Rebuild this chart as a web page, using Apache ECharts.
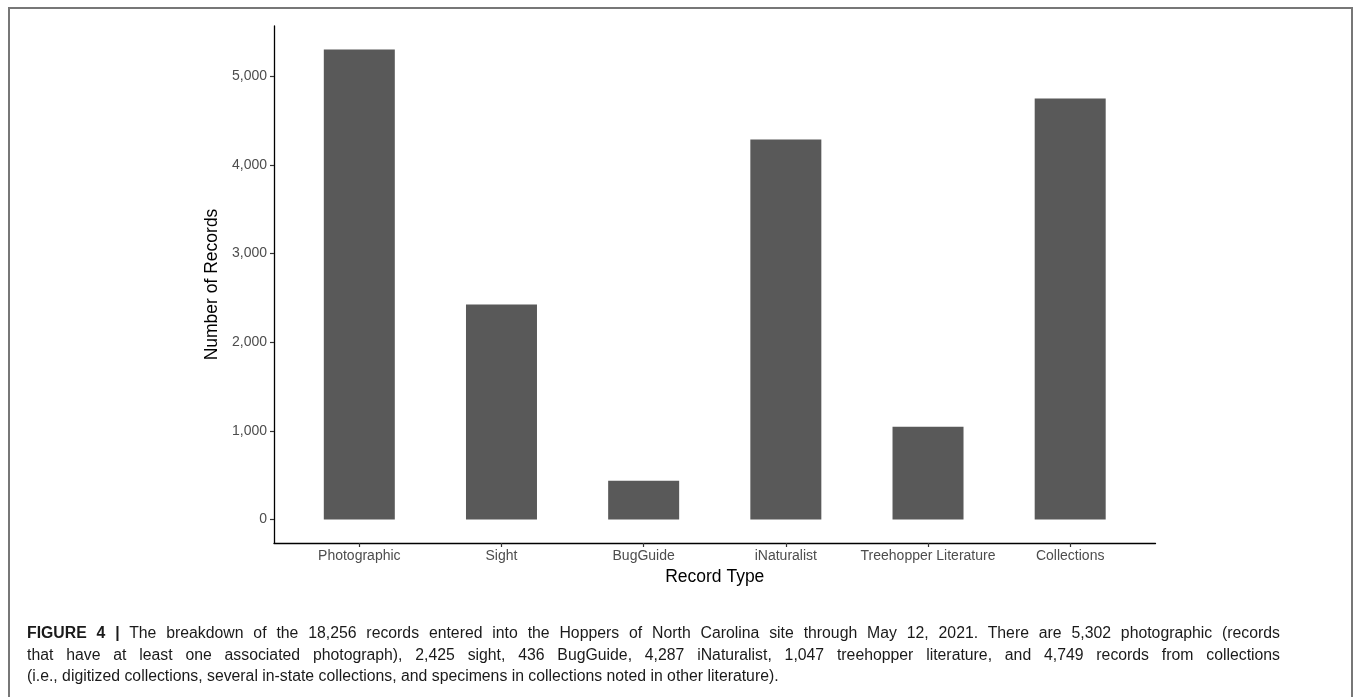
<!DOCTYPE html>
<html>
<head>
<meta charset="utf-8">
<script src="https://cdn.jsdelivr.net/npm/echarts@6/dist/echarts.min.js"></script>
<style>
  html, body { margin: 0; padding: 0; background: #fff; }
  #wrap { position: relative; width: 1355px; height: 697px; overflow: hidden; }
  #frame { position: absolute; left: 8px; top: 7px; width: 1345px; height: 720px; border: 2px solid #777; box-sizing: border-box; }
  #chart { position: absolute; left: 0; top: 0; width: 1355px; height: 697px; }
  #caption { position: absolute; left: 27px; top: 622px; width: 1253px; font-family: "Liberation Sans", Arial, sans-serif; font-size: 15.8px; line-height: 21.5px; color: #1a1a1a; }
  .ln { text-align: justify; text-align-last: justify; white-space: nowrap; }
  .ln.last { text-align-last: left; }
</style>
</head>
<body>
<div id="wrap">
  <div id="frame"></div>
  <div id="chart"></div>
  <div id="caption">
    <div class="ln"><b>FIGURE 4 |</b> The breakdown of the 18,256 records entered into the Hoppers of North Carolina site through May 12, 2021. There are 5,302 photographic (records</div>
    <div class="ln">that have at least one associated photograph), 2,425 sight, 436 BugGuide, 4,287 iNaturalist, 1,047 treehopper literature, and 4,749 records from collections</div>
    <div class="ln last">(i.e., digitized collections, several in-state collections, and specimens in collections noted in other literature).</div>
  </div>
</div>
<script>
const categories = ["Photographic", "Sight", "BugGuide", "iNaturalist", "Treehopper Literature", "Collections"];
const recordCounts = [5302, 2425, 436, 4287, 1047, 4749];
const yTicks = [0, 1000, 2000, 3000, 4000, 5000];

const fmt = v => String(v).replace(/\B(?=(\d{3})+(?!\d))/g, ",");
const catIdx = categories.map((c, i) => i);
const dataMax = Math.max.apply(null, recordCounts);
const yPad = dataMax * 0.05;

const chart = echarts.init(document.getElementById('chart'), null, { renderer: 'canvas' });
chart.setOption({
  animation: false,
  textStyle: { fontFamily: '"Liberation Sans", Arial, sans-serif' },
  grid: { left: 274, right: 199.5, top: 26, bottom: 154, containLabel: false },
  xAxis: {
    type: 'value',
    min: -0.6, max: categories.length - 0.4,
    splitLine: { show: false },
    axisLine: { onZero: false, lineStyle: { color: '#000', width: 1.3 } },
    axisTick: { show: true, customValues: catIdx, length: 4, lineStyle: { color: '#333', width: 1.2 } },
    axisLabel: { customValues: catIdx, formatter: v => categories[Math.round(v)], color: '#4d4d4d', fontSize: 14, margin: 6 },
    name: 'Record Type', nameLocation: 'middle', nameGap: 24,
    nameTextStyle: { color: '#000', fontSize: 17.5 }
  },
  yAxis: {
    type: 'value',
    min: -yPad, max: dataMax + yPad,
    splitLine: { show: false },
    axisLine: { show: true, onZero: false, lineStyle: { color: '#000', width: 1.3 } },
    axisTick: { show: true, customValues: yTicks, length: 4, lineStyle: { color: '#333', width: 1.2 } },
    axisLabel: { customValues: yTicks, formatter: v => fmt(Math.round(v)), color: '#4d4d4d', fontSize: 14, margin: 7 },
    name: 'Number of Records', nameLocation: 'middle', nameGap: 43,
    nameTextStyle: { color: '#000', fontSize: 17.5 }
  },
  series: [{
    type: 'bar',
    data: recordCounts.map((v, i) => [i, v]),
    barWidth: 71,
    itemStyle: { color: '#595959' }
  }]
});
</script>
</body>
</html>
